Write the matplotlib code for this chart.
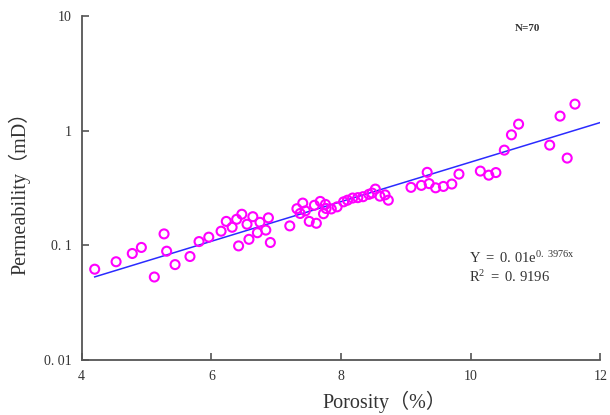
import matplotlib
matplotlib.use("Agg")
import matplotlib.pyplot as plt
import numpy as np

plt.rcParams['font.family'] = ['Liberation Serif', 'Noto Sans CJK SC', 'DejaVu Sans']
plt.rcParams['mathtext.fontset'] = 'custom'
plt.rcParams['mathtext.rm'] = 'Liberation Serif'
plt.rcParams['mathtext.it'] = 'Liberation Serif'

# porosidade (%) e permeabilidade (mD)
porosity = [4.20, 4.53, 4.78, 4.92, 5.27, 5.12, 5.31, 5.44, 5.67, 5.81,
            5.96, 6.15, 6.23, 6.32, 6.39, 6.47, 6.42, 6.55, 6.64, 6.58,
            6.71, 6.75, 6.84, 6.88, 6.91, 7.21, 7.32, 7.41, 7.37, 7.45,
            7.51, 7.59, 7.62, 7.68, 7.76, 7.73, 7.85, 7.94, 8.04, 8.18,
            8.26, 8.34, 8.43, 8.53, 8.60, 8.68, 8.73, 9.08, 9.24, 9.36,
            9.33, 9.46, 9.58, 9.71, 9.82, 10.15, 10.28, 10.39, 10.52, 10.63,
            10.74, 11.22, 11.38, 11.49, 11.61, 7.77, 8.10, 8.48]
permeability = [0.062, 0.072, 0.085, 0.096, 0.126, 0.053, 0.089, 0.068, 0.080, 0.108,
                0.118, 0.133, 0.162, 0.144, 0.169, 0.187, 0.099, 0.153, 0.178, 0.113,
                0.129, 0.159, 0.136, 0.174, 0.106, 0.148, 0.209, 0.234, 0.190, 0.200,
                0.162, 0.224, 0.156, 0.242, 0.228, 0.189, 0.208, 0.217, 0.240, 0.259,
                0.261, 0.266, 0.279, 0.310, 0.269, 0.276, 0.248, 0.321, 0.334, 0.346,
                0.434, 0.318, 0.327, 0.343, 0.419, 0.445, 0.410, 0.432, 0.678, 0.922,
                1.143, 0.750, 1.343, 0.578, 1.709, 0.210, 0.248, 0.286]

# ajuste exponencial Y = a*e^(b*x)
fit_a = 0.01
fit_b = 0.3976
fit_r2 = 0.9196
fit_x_range = [4.2, 12.0]

y_ticks = [0.01, 0.1, 1, 10]
y_tick_labels = ["0. 01", "0. 1", "1", "10"]
x_ticks = [4, 6, 8, 10, 12]

fig = plt.figure(figsize=(6.1, 4.15), dpi=100)
ax = fig.add_axes([0.134, 0.1325, 0.850, 0.8285])

ax.scatter(porosity, permeability, s=42, facecolors="none",
           edgecolors="#ff00ff", linewidths=1.5, zorder=3)

xf = np.linspace(fit_x_range[0], fit_x_range[1], 50)
ax.plot(xf, fit_a * np.exp(fit_b * xf), color="#2b2bff", linewidth=1.1, zorder=2)

ax.set_yscale("log")
ax.set_xlim(4, 12)
ax.set_ylim(0.01, 10)
ax.set_yticks(y_ticks)
ax.set_yticklabels(y_tick_labels)
ax.set_xticks(x_ticks)
ax.minorticks_off()

for side in ["top", "right"]:
    ax.spines[side].set_visible(False)
for side in ["left", "bottom"]:
    ax.spines[side].set_color("#555555")
    ax.spines[side].set_linewidth(1.3)
ax.tick_params(direction="in", length=5, width=1.2, color="#555555",
               labelsize=10, labelcolor="#333333", pad=7)

ax.set_ylabel("Permeability（mD）", fontsize=14.5, color="#333333", labelpad=10)
fig.text(0.631, 0.018, "Porosity（%）", fontsize=14.5, color="#333333", ha="center")

ax.text(0.86, 0.965, "N=70", transform=ax.transAxes, fontsize=8,
        fontweight="bold", color="#333333", ha="center", va="center")
ax.text(9.97, 0.0776, r"Y $=$ 0. 01e$^{\mathrm{0.\ 3976x}}$", fontsize=10.5,
        color="#333333", va="center")
ax.text(9.97, 0.053, r"R$^{2}$ $=$ 0. " + str(fit_r2)[2:], fontsize=10.5,
        color="#333333", va="center")

fig.savefig("out.png", dpi=100)
